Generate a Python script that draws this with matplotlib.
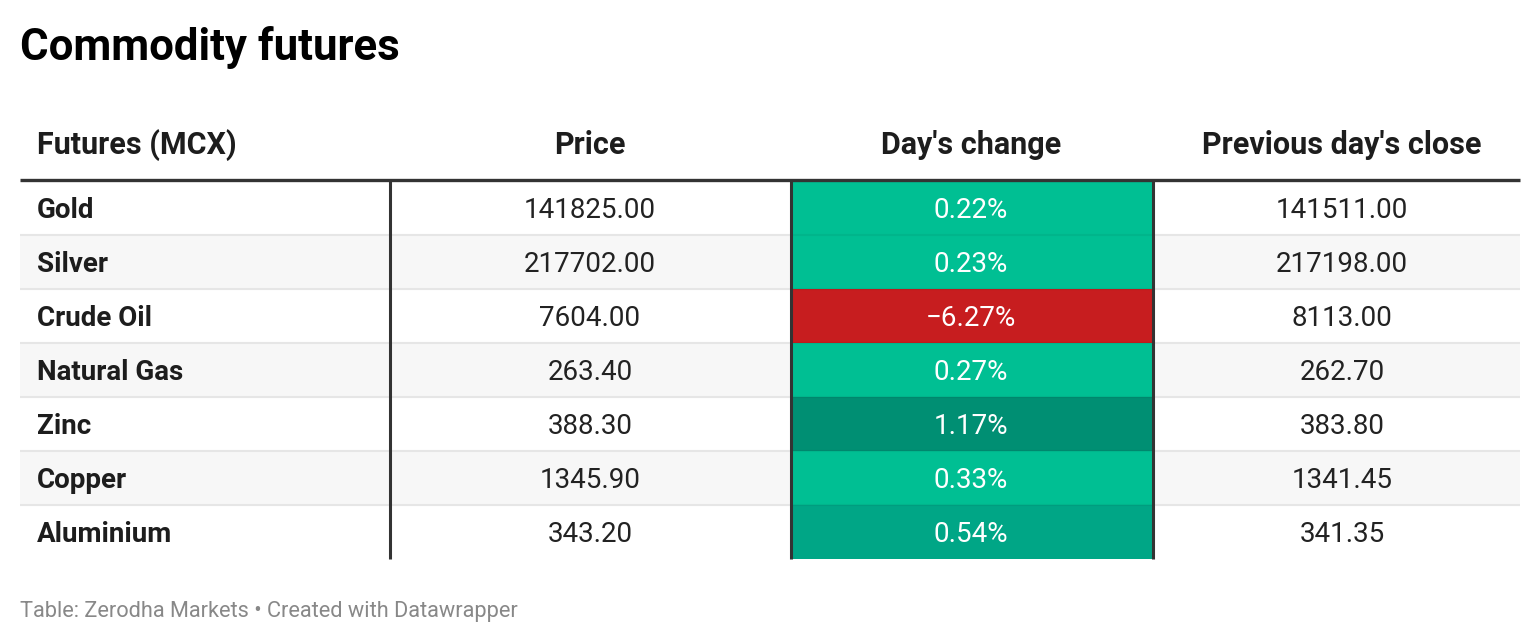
import matplotlib
matplotlib.use("Agg")
import matplotlib.pyplot as plt
from matplotlib.patches import Rectangle

plt.rcParams['font.family'] = ['Roboto', 'DejaVu Sans']

# table data
title = "Commodity futures"
headers = ["Futures (MCX)", "Price", "Day's change", "Previous day's close"]
commodities = ["Gold", "Silver", "Crude Oil", "Natural Gas", "Zinc", "Copper", "Aluminium"]
prices = [141825.00, 217702.00, 7604.00, 263.40, 388.30, 1345.90, 343.20]
changes = [0.22, 0.23, -6.27, 0.27, 1.17, 0.33, 0.54]
prev_close = [141511.00, 217198.00, 8113.00, 262.70, 383.80, 1341.45, 341.35]
footer = "Table: Zerodha Markets \u2022 Created with Datawrapper"


def change_color(v):
    if v < 0:
        return "#c71d1f"
    if v < 0.4:
        return "#00bf93"
    if v < 0.8:
        return "#00a686"
    return "#008f73"


def fmt_pct(v):
    s = "%.2f%%" % abs(v)
    return ("\u2212" + s) if v < 0 else s


fig = plt.figure(figsize=(15.4, 6.44), dpi=100)
ax = fig.add_axes([0, 0, 1, 1])
ax.set_xlim(0, 1540)
ax.set_ylim(644, 0)
ax.axis("off")

left, right = 20, 1520
col_edges = [20, 390, 791, 1153, 1520]
text_x = [37, 590, 971, 1342]
top = 181
row_h = 54
n = len(commodities)
bottom = top + row_h * n

ax.text(20, 47, title, fontsize=31.5, fontweight="bold", color="#000000",
        ha="left", va="center")

# header
ax.text(text_x[0], 145, headers[0], fontsize=22, fontweight="bold", color="#1d1d1d",
        ha="left", va="center")
for j in range(1, 4):
    ax.text(text_x[j], 145, headers[j], fontsize=22, fontweight="bold",
            color="#1d1d1d", ha="center", va="center")

for i in range(n):
    y0 = top + i * row_h
    yc = y0 + row_h / 2 + 2
    if i % 2 == 1:
        ax.add_patch(Rectangle((left, y0), right - left, row_h, color="#f7f7f7", lw=0, zorder=0))
    ax.add_patch(Rectangle((col_edges[2], y0), col_edges[3] - col_edges[2], row_h,
                           color=change_color(changes[i]), lw=0, zorder=1))
    if i > 0:
        ax.plot([left, right], [y0, y0], color="#e6e6e6", lw=1.5, zorder=0.5,
                solid_capstyle="butt")
        # faint separator inside the coloured column
        ax.plot([col_edges[2], col_edges[3]], [y0, y0], color="#000000", alpha=0.05,
                lw=1.5, zorder=1.5, solid_capstyle="butt")
    ax.text(text_x[0], yc, commodities[i], fontsize=20, fontweight="bold", color="#1d1d1d",
            ha="left", va="center", zorder=3)
    ax.text(text_x[1], yc, "%.2f" % prices[i], fontsize=20, color="#222222",
            ha="center", va="center", zorder=3)
    ax.text(text_x[2], yc, fmt_pct(changes[i]), fontsize=20, color="#ffffff",
            ha="center", va="center", zorder=3)
    ax.text(text_x[3], yc, "%.2f" % prev_close[i], fontsize=20, color="#222222",
            ha="center", va="center", zorder=3)

# thick header rule and column dividers
ax.plot([left, right], [180, 180], color="#333333", lw=2.4, zorder=4, solid_capstyle="butt")
for x in col_edges[1:4]:
    ax.plot([x, x], [181, bottom], color="#333333", lw=2.2, zorder=4, solid_capstyle="butt")

ax.text(20, 612, footer, fontsize=15.7, color="#888888", ha="left", va="center")

fig.savefig("out.png", dpi=100)
